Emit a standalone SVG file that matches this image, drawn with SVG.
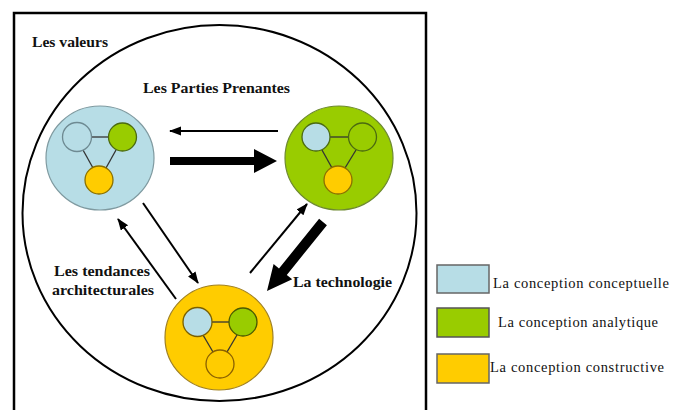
<svg xmlns="http://www.w3.org/2000/svg" width="684" height="410" viewBox="0 0 684 410">
<style>
.bold{font-family:"Liberation Serif","Times New Roman",serif;font-weight:bold;font-size:14px;fill:#111}
.leg{font-family:"Liberation Serif","Times New Roman",serif;font-size:14.5px;fill:#111}
.thin{stroke:#000;stroke-width:2;fill:none;marker-end:url(#ah)}
.link{stroke:#333;stroke-width:1.3}
.bl{fill:#B7DDE6}
.gr{fill:#99CC00}
.ye{fill:#FFCC00}
</style>
<defs>
<marker id="ah" markerUnits="userSpaceOnUse" markerWidth="12" markerHeight="10" refX="11" refY="4.5" orient="auto">
<path d="M0,0 L12,4.5 L0,9 z" fill="#000"/>
</marker>
</defs>
<rect x="0" y="0" width="684" height="410" fill="#fff"/>
<g id="frame">
<rect x="14" y="13" width="412" height="402" fill="none" stroke="#000" stroke-width="2.5"/>
<ellipse cx="219.5" cy="213" rx="197" ry="188" fill="none" stroke="#000" stroke-width="2"/>
</g>
<g id="labels">
<text class="bold" x="32" y="47" textLength="76" lengthAdjust="spacingAndGlyphs">Les valeurs</text>
<text class="bold" x="143" y="93" textLength="147" lengthAdjust="spacingAndGlyphs">Les Parties Prenantes</text>
<text class="bold" x="54" y="276" textLength="96" lengthAdjust="spacingAndGlyphs">Les tendances</text>
<text class="bold" x="52" y="295" textLength="102" lengthAdjust="spacingAndGlyphs">architecturales</text>
<text class="bold" x="293" y="287" textLength="99" lengthAdjust="spacingAndGlyphs">La technologie</text>
</g>
<g id="node-conceptuelle">
<ellipse class="bl" cx="100" cy="158" rx="54" ry="52" stroke="#7f9aa0" stroke-width="1.2"/>
<line class="link" x1="91" y1="137" x2="108" y2="137"/>
<line class="link" x1="83" y1="150" x2="93" y2="168"/>
<line class="link" x1="116" y1="150" x2="106" y2="168"/>
<circle class="bl" cx="77" cy="137" r="14.5" stroke="#6e8a92" stroke-width="1.3"/>
<circle class="gr" cx="122.5" cy="137" r="14" stroke="#4b6a10" stroke-width="1.3"/>
<circle class="ye" cx="99" cy="180" r="14" stroke="#8a7000" stroke-width="1.3"/>
</g>
<g id="node-analytique">
<ellipse class="gr" cx="339" cy="158" rx="54" ry="52" stroke="#6e8a30" stroke-width="1.2"/>
<line class="link" x1="330" y1="137" x2="348" y2="137"/>
<line class="link" x1="322" y1="150" x2="332" y2="168"/>
<line class="link" x1="356" y1="150" x2="345" y2="168"/>
<circle class="bl" cx="316" cy="137" r="14" stroke="#4b6a10" stroke-width="1.3"/>
<circle class="gr" cx="362.5" cy="137" r="14" stroke="#4b6a10" stroke-width="1.3"/>
<circle class="ye" cx="338" cy="180" r="14" stroke="#8a7000" stroke-width="1.3"/>
</g>
<g id="node-constructive">
<ellipse class="ye" cx="219" cy="337.5" rx="54" ry="52.5" stroke="#a08020" stroke-width="1.2"/>
<line class="link" x1="211" y1="322" x2="229" y2="322" stroke="#7a5a00"/>
<line class="link" x1="203" y1="335" x2="213" y2="352" stroke="#7a5a00"/>
<line class="link" x1="237" y1="335" x2="227" y2="352" stroke="#7a5a00"/>
<circle class="bl" cx="197.5" cy="322" r="14.5" stroke="#7a6000" stroke-width="1.3"/>
<circle class="gr" cx="243" cy="322" r="14" stroke="#4b5a00" stroke-width="1.3"/>
<circle class="ye" cx="220" cy="364" r="14" stroke="#8a6000" stroke-width="1.3"/>
</g>
<g id="connectors">
<line class="thin" x1="278" y1="131" x2="170" y2="131"/>
<path d="M170,157 L254,157 L254,149 L277,161 L254,173 L254,165 L170,165 z" fill="#000"/>
<line class="thin" x1="143" y1="203" x2="198" y2="283"/>
<line class="thin" x1="176" y1="299" x2="118" y2="219"/>
<line class="thin" x1="250" y1="273" x2="307" y2="204"/>
<path d="M326.9,225.2 L286.8,274.9 L292.2,279.3 L267,291 L273.6,264.1 L279,268.5 L319.1,218.8 z" fill="#000"/>
</g>
<g id="legend">
<rect class="bl" x="437" y="265" width="52" height="28" stroke="#666" stroke-width="1.5"/>
<rect class="gr" x="437" y="308" width="52" height="29" stroke="#555" stroke-width="1.5"/>
<rect class="ye" x="437" y="354" width="52" height="29" stroke="#666" stroke-width="1.5"/>
<text class="leg" x="493" y="288" textLength="176" lengthAdjust="spacing">La conception conceptuelle</text>
<text class="leg" x="498" y="327" textLength="160" lengthAdjust="spacing">La conception analytique</text>
<text class="leg" x="490" y="372" textLength="174" lengthAdjust="spacing">La conception constructive</text>
</g>
</svg>
